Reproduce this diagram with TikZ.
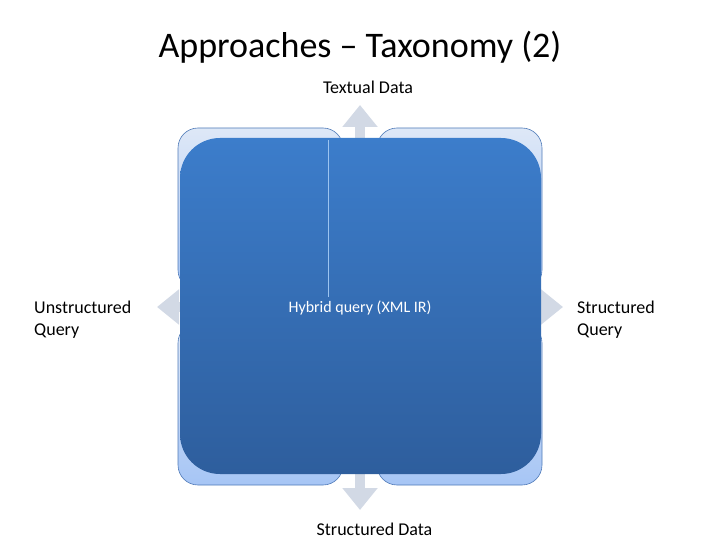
\documentclass[tikz,border=0pt]{standalone}
\usepackage{fontspec}
\setmainfont{Carlito}
\usepackage{tikz}
\usetikzlibrary{positioning, arrows.meta, calc}
\definecolor{crossgray}{HTML}{D2D9E5}
\definecolor{quadtop}{HTML}{DEE8F7}
\definecolor{quadbot}{HTML}{A6C5F5}
\definecolor{quadline}{HTML}{4F7AB8}
\definecolor{hybtop}{HTML}{3C7DCB}
\definecolor{hybbot}{HTML}{2E5E9D}
\definecolor{seamline}{HTML}{9CC4F0}

\begin{document}
\begin{tikzpicture}[x=1pt,y=-1pt,font=\fontsize{18}{22}\selectfont,
  quad/.style={draw=quadline, line width=0.6pt, rounded corners=20pt,
    minimum width=165pt, minimum height=162pt, inner sep=0pt,
    top color=quadtop, bottom color=quadbot},
  hyb/.style={rounded corners=40pt, minimum width=361pt, minimum height=336pt,
    inner sep=0pt, top color=hybtop, bottom color=hybbot, text=white,
    font=\fontsize{16}{19}\selectfont},
  cross/.style={crossgray, line width=10pt,
    {Triangle[width=34pt,length=22pt]}-{Triangle[width=34pt,length=22pt]}},
  lbl/.style={align=left, anchor=west, inner sep=0pt}]
\useasboundingbox (0,0) rectangle (720,540);

\node[font=\fontsize{36}{42}\selectfont] (title) at (360,47) {Approaches -- Taxonomy (2)};

% cross arrows behind the matrix
\coordinate (up) at (360,105);
\coordinate (down) at (360,510);
\coordinate (left) at (157,307);
\coordinate (right) at (563,307);
\draw[cross] (up) -- (down);
\draw[cross] (left) -- (right);

% four quadrants
\foreach \n/\x/\y in {q1/260.5/209, q2/459.5/209, q3/260.5/404, q4/459.5/404}{
  \node[quad] (\n) at (\x,\y) {};}

\node[hyb] (hybrid) at (360.5,306) {};
\node[text=white, font=\fontsize{16}{19}\selectfont] (hybtext) at (360,308) {Hybrid query (XML IR)};
\draw[seamline, line width=0.8pt] ($(hybrid.north)+(-32,2)$) -- ($(hybrid.center)+(-32,-9)$);

\node (textual) at (368,87) {Textual Data};
\node (structdata) at (374.5,529) {Structured Data};
\node[lbl] (unstruct) at (34,320) {Unstructured\\Query};
\node[lbl] (structq) at (577,320) {Structured\\Query};

\end{tikzpicture}
\end{document}
